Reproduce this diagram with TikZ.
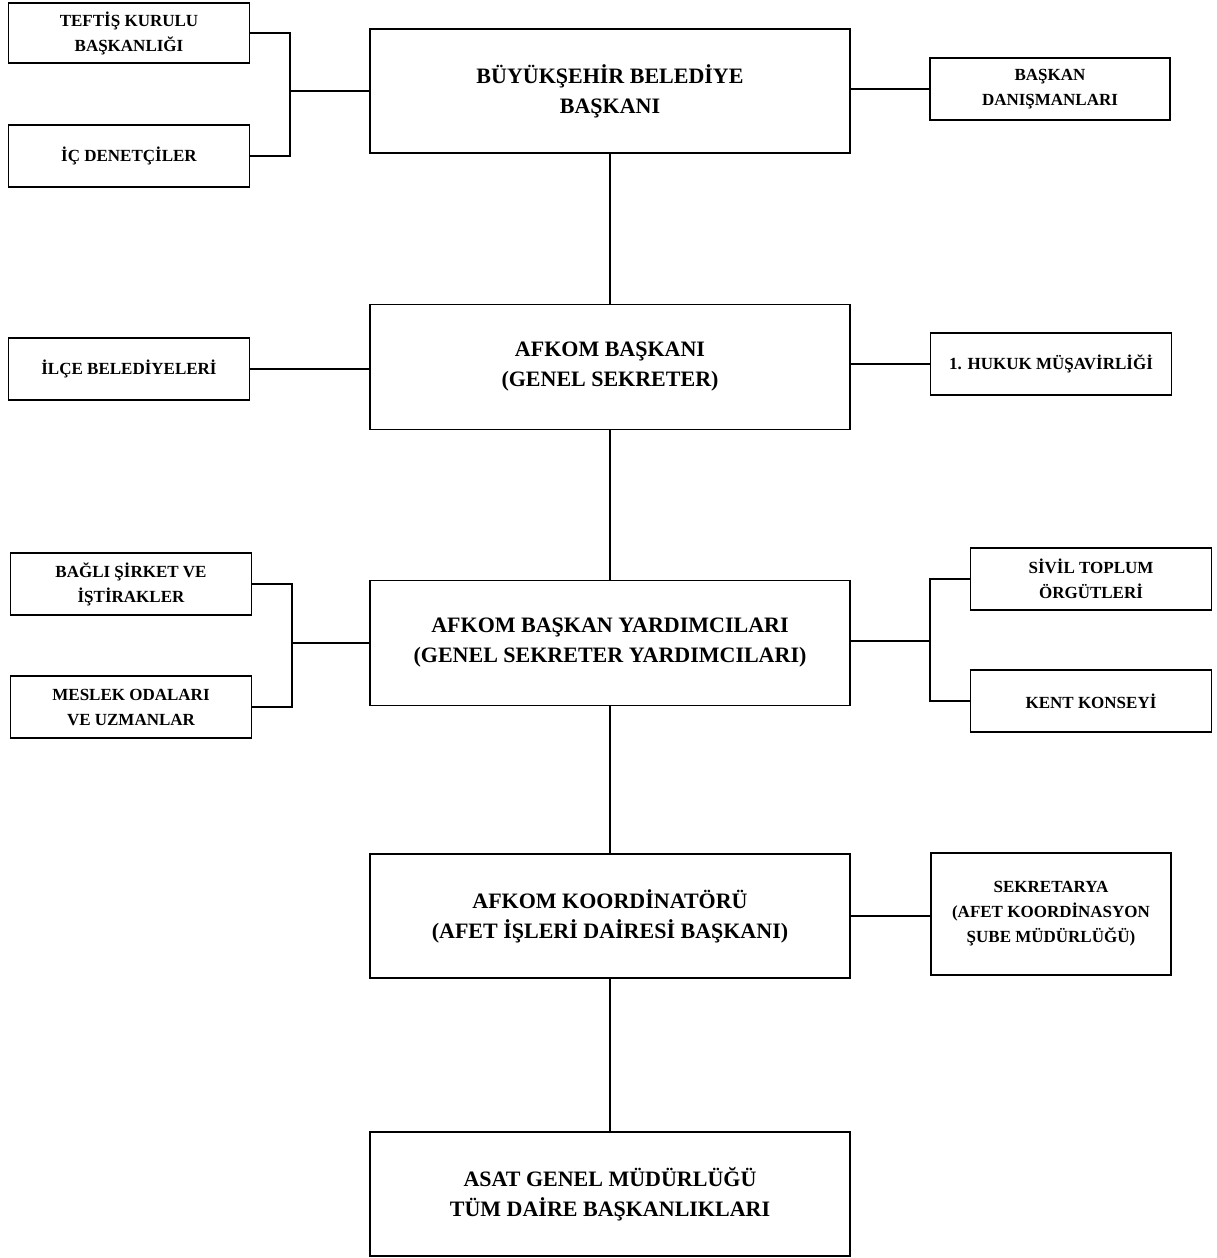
\documentclass[tikz,border=0pt]{standalone}
\usepackage{fontspec}
\setmainfont{Liberation Serif}
\usepackage{tikz}

\tikzset{
  mainbox/.style={draw, line width=1.2pt, minimum width=480pt, minimum height=124pt, align=center,
    font=\fontsize{22}{30}\selectfont\bfseries},
  sidebox/.style={draw, line width=1.2pt, minimum width=241pt, minimum height=62pt, align=center,
    font=\fontsize{17}{25}\selectfont\bfseries},
  link/.style={line width=1.2pt}
}

\begin{document}
\begin{tikzpicture}[x=1pt,y=-1pt]
        \useasboundingbox (0,0) rectangle (1216,1258);
        % centre column
        \node[mainbox] (baskan) at (610,91) {BÜYÜKŞEHİR BELEDİYE\\BAŞKANI};
        \node[mainbox, minimum height=125pt] (afkom) at (610,367) {AFKOM BAŞKANI\\(GENEL SEKRETER)};
        \node[mainbox, minimum height=125pt] (yardimci) at (610,643) {AFKOM BAŞKAN YARDIMCILARI\\(GENEL SEKRETER YARDIMCILARI)};
        \node[mainbox] (koord) at (610,916) {AFKOM KOORDİNATÖRÜ\\(AFET İŞLERİ DAİRESİ BAŞKANI)};
        \node[mainbox] (asat) at (610,1194) {ASAT GENEL MÜDÜRLÜĞÜ\\TÜM DAİRE BAŞKANLIKLARI};
        % left side
        \node[sidebox, minimum height=60pt] (teftis) at (129,33) {TEFTİŞ KURULU\\BAŞKANLIĞI};
        \node[sidebox] (denetci) at (129,156) {İÇ DENETÇİLER};
        \node[sidebox] (ilce) at (129,369) {İLÇE BELEDİYELERİ};
        \node[sidebox] (bagli) at (131,584) {BAĞLI ŞİRKET VE\\İŞTİRAKLER};
        \node[sidebox] (meslek) at (131,707) {MESLEK ODALARI\\VE UZMANLAR};
        % right side
        \node[sidebox, minimum width=240pt] (danisman) at (1050,89) {BAŞKAN\\DANIŞMANLARI};
        \node[sidebox] (hukuk) at (1051,364) {1. HUKUK MÜŞAVİRLİĞİ};
        \node[sidebox] (sivil) at (1091,579) {SİVİL TOPLUM\\ÖRGÜTLERİ};
        \node[sidebox] (kent) at (1091,701) {KENT KONSEYİ};
        \node[sidebox, minimum width=240pt, minimum height=122pt] (sekreter) at (1051,914) {SEKRETARYA\\(AFET KOORDİNASYON\\ŞUBE MÜDÜRLÜĞÜ)};
        % joints of the brackets
        \coordinate (jsolust) at (290,91);
        \coordinate (jsolalt) at (292,643);
        \coordinate (jsagalt) at (930,641);
        % connectors
        \draw[link] (baskan) -- (afkom);
        \draw[link] (afkom) -- (yardimci);
        \draw[link] (yardimci) -- (koord);
        \draw[link] (koord) -- (asat);
        \draw[link] (teftis.east) -| (jsolust) |- (denetci.east);
        \draw[link] (jsolust) -- (baskan.west);
        \draw[link] (ilce.east) -- (ilce.east -| afkom.west);
        \draw[link] (bagli.east) -| (jsolalt) |- (meslek.east);
        \draw[link] (jsolalt) -- (yardimci.west);
        \draw[link] (baskan.east |- danisman.west) -- (danisman.west);
        \draw[link] (afkom.east |- hukuk.west) -- (hukuk.west);
        \draw[link] (sivil.west) -| (jsagalt) |- (kent.west);
        \draw[link] (jsagalt) -- (jsagalt -| yardimci.east);
        \draw[link] (koord.east) -- (koord.east -| sekreter.west);
    \end{tikzpicture}
\end{document}
